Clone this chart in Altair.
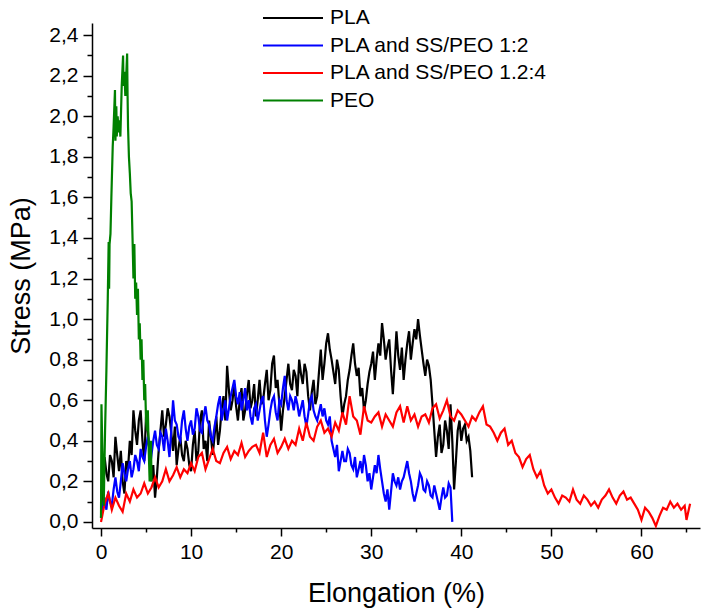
import altair as alt
import pandas as pd

series_names = ["PLA", "PLA and SS/PEO 1:2", "PLA and SS/PEO 1.2:4", "PEO"]
series_colors = ["#000000", "#0000ff", "#ff0000", "#008000"]

x_major = [0, 10, 20, 30, 40, 50, 60]
x_minor = [5, 15, 25, 35, 45, 55, 65]
y_major = [0.0, 0.2, 0.4, 0.6, 0.8, 1.0, 1.2, 1.4, 1.6, 1.8, 2.0, 2.2, 2.4]
y_minor = [0.1, 0.3, 0.5, 0.7, 0.9, 1.1, 1.3, 1.5, 1.7, 1.9, 2.1, 2.3]

pla_x = [0, 0.2, 0.4, 0.6, 0.8, 1.0, 1.2, 1.4, 1.6, 1.8,
         2.0, 2.2, 2.4, 2.6, 2.8, 3.0, 3.2, 3.4, 3.6, 3.8,
         4.0, 4.2, 4.4, 4.6, 4.8, 5.0, 5.2, 5.4, 5.6, 5.8,
         6.0, 6.2, 6.4, 6.6, 6.8, 7.0, 7.2, 7.4, 7.6, 7.8,
         8.0, 8.2, 8.4, 8.6, 8.8, 9.0, 9.2, 9.4, 9.6, 9.8,
         10.0, 10.2, 10.4, 10.6, 10.8, 11.0, 11.2, 11.4, 11.6, 11.8,
         12.0, 12.2, 12.4, 12.6, 12.8, 13.0, 13.2, 13.4, 13.6, 13.8,
         14.0, 14.2, 14.4, 14.6, 14.8, 15.0, 15.2, 15.4, 15.6, 15.8,
         16.0, 16.2, 16.4, 16.6, 16.8, 17.0, 17.2, 17.4, 17.6, 17.8,
         18.0, 18.2, 18.4, 18.6, 18.8, 19.0, 19.2, 19.4, 19.6, 19.8,
         20.0, 20.2, 20.4, 20.6, 20.8, 21.0, 21.2, 21.4, 21.6, 21.8,
         22.0, 22.2, 22.4, 22.6, 22.8, 23.0, 23.2, 23.4, 23.6, 23.8,
         24.0, 24.2, 24.4, 24.6, 24.8, 25.0, 25.2, 25.4, 25.6, 25.8,
         26.0, 26.2, 26.4, 26.6, 26.8, 27.0, 27.2, 27.4, 27.6, 27.8,
         28.0, 28.2, 28.4, 28.6, 28.8, 29.0, 29.2, 29.4, 29.6, 29.8,
         30.0, 30.2, 30.4, 30.6, 30.8, 31.0, 31.2, 31.4, 31.6, 31.8,
         32.0, 32.2, 32.4, 32.6, 32.8, 33.0, 33.2, 33.4, 33.6, 33.8,
         34.0, 34.2, 34.4, 34.6, 34.8, 35.0, 35.2, 35.4, 35.6, 35.8,
         36.0, 36.2, 36.4, 36.6, 36.8, 37.0, 37.2, 37.4, 37.6, 37.8,
         38.0, 38.2, 38.4, 38.6, 38.8, 39.0, 39.2, 39.4, 39.6, 39.8,
         40.0, 40.2, 40.4, 40.6, 40.8, 41.0, 41.2]
pla_y = [0.02, 0.22, 0.32, 0.24, 0.2, 0.33, 0.3, 0.22, 0.42, 0.33,
         0.25, 0.35, 0.2, 0.14, 0.3, 0.26, 0.4, 0.33, 0.55, 0.45,
         0.38, 0.5, 0.55, 0.4, 0.3, 0.52, 0.45, 0.33, 0.2, 0.28,
         0.12, 0.22, 0.35, 0.45, 0.55, 0.42, 0.48, 0.56, 0.52, 0.44,
         0.35, 0.47, 0.28, 0.36, 0.42, 0.33, 0.3, 0.4, 0.36, 0.28,
         0.25, 0.38, 0.45, 0.3, 0.35, 0.5, 0.55, 0.36, 0.4, 0.3,
         0.5, 0.42, 0.33, 0.42, 0.52, 0.38, 0.45, 0.56, 0.62, 0.5,
         0.77, 0.65, 0.55, 0.6, 0.68, 0.57, 0.5, 0.6, 0.66, 0.5,
         0.55, 0.63, 0.7, 0.56, 0.6, 0.68, 0.52, 0.6, 0.7, 0.58,
         0.6, 0.68, 0.75, 0.6, 0.65, 0.78, 0.82, 0.66, 0.7, 0.58,
         0.45, 0.55, 0.62, 0.7, 0.78, 0.68, 0.65, 0.75, 0.72, 0.62,
         0.8, 0.73, 0.68, 0.78, 0.74, 0.62, 0.55, 0.64, 0.7, 0.58,
         0.62, 0.74, 0.85, 0.7, 0.78, 0.88, 0.93, 0.85, 0.8, 0.74,
         0.68, 0.8, 0.75, 0.62, 0.52, 0.58, 0.62, 0.7, 0.75, 0.82,
         0.88, 0.78, 0.72, 0.76, 0.62, 0.66, 0.55, 0.6, 0.68, 0.74,
         0.78, 0.84, 0.7, 0.8, 0.88, 0.82, 0.98, 0.9, 0.8, 0.86,
         0.9, 0.75, 0.63, 0.78, 0.94, 0.82, 0.75, 0.86, 0.7, 0.8,
         0.88, 0.94, 0.8, 0.88, 0.95, 0.9, 1.0, 0.92, 0.85, 0.78,
         0.72, 0.8, 0.77, 0.7, 0.58, 0.45, 0.32, 0.42, 0.48, 0.34,
         0.38, 0.5, 0.45, 0.36, 0.58, 0.4, 0.16, 0.3, 0.45, 0.5,
         0.4, 0.46, 0.48, 0.4, 0.42, 0.35, 0.22]

blue_x = [0, 0.2, 0.4, 0.6, 0.8, 1.0, 1.2, 1.4, 1.6, 1.8,
          2.0, 2.2, 2.4, 2.6, 2.8, 3.0, 3.2, 3.4, 3.6, 3.8,
          4.0, 4.2, 4.4, 4.6, 4.8, 5.0, 5.2, 5.4, 5.6, 5.8,
          6.0, 6.2, 6.4, 6.6, 6.8, 7.0, 7.2, 7.4, 7.6, 7.8,
          8.0, 8.2, 8.4, 8.6, 8.8, 9.0, 9.2, 9.4, 9.6, 9.8,
          10.0, 10.2, 10.4, 10.6, 10.8, 11.0, 11.2, 11.4, 11.6, 11.8,
          12.0, 12.2, 12.4, 12.6, 12.8, 13.0, 13.2, 13.4, 13.6, 13.8,
          14.0, 14.2, 14.4, 14.6, 14.8, 15.0, 15.2, 15.4, 15.6, 15.8,
          16.0, 16.2, 16.4, 16.6, 16.8, 17.0, 17.2, 17.4, 17.6, 17.8,
          18.0, 18.2, 18.4, 18.6, 18.8, 19.0, 19.2, 19.4, 19.6, 19.8,
          20.0, 20.2, 20.4, 20.6, 20.8, 21.0, 21.2, 21.4, 21.6, 21.8,
          22.0, 22.2, 22.4, 22.6, 22.8, 23.0, 23.2, 23.4, 23.6, 23.8,
          24.0, 24.2, 24.4, 24.6, 24.8, 25.0, 25.2, 25.4, 25.6, 25.8,
          26.0, 26.2, 26.4, 26.6, 26.8, 27.0, 27.2, 27.4, 27.6, 27.8,
          28.0, 28.2, 28.4, 28.6, 28.8, 29.0, 29.2, 29.4, 29.6, 29.8,
          30.0, 30.2, 30.4, 30.6, 30.8, 31.0, 31.2, 31.4, 31.6, 31.8,
          32.0, 32.2, 32.4, 32.6, 32.8, 33.0, 33.2, 33.4, 33.6, 33.8,
          34.0, 34.2, 34.4, 34.6, 34.8, 35.0, 35.2, 35.4, 35.6, 35.8,
          36.0, 36.2, 36.4, 36.6, 36.8, 37.0, 37.2, 37.4, 37.6, 37.8,
          38.0, 38.2, 38.4, 38.6, 38.8, 39.0]
blue_y = [0.02, 0.08, 0.12, 0.06, 0.15, 0.1, 0.08, 0.16, 0.22, 0.15,
          0.12, 0.2, 0.29, 0.24, 0.2, 0.26, 0.3, 0.22, 0.26, 0.33,
          0.3, 0.25, 0.36, 0.32, 0.3, 0.37, 0.42, 0.35, 0.33, 0.4,
          0.45, 0.38, 0.36, 0.44, 0.42, 0.35, 0.46, 0.4, 0.32, 0.45,
          0.6, 0.5, 0.48, 0.42, 0.4, 0.5, 0.55, 0.46, 0.4, 0.47,
          0.5, 0.43, 0.46, 0.56, 0.52, 0.45, 0.44, 0.52, 0.57, 0.5,
          0.48, 0.42, 0.4, 0.47, 0.52, 0.58, 0.62, 0.5, 0.55, 0.6,
          0.5, 0.56, 0.62, 0.66, 0.7, 0.62, 0.58, 0.64, 0.55, 0.6,
          0.66, 0.55, 0.6, 0.52, 0.48, 0.56, 0.58, 0.5, 0.55, 0.6,
          0.62, 0.5, 0.42, 0.48, 0.55, 0.6, 0.62, 0.54, 0.5, 0.6,
          0.58, 0.66, 0.72, 0.6, 0.55, 0.62, 0.6, 0.55, 0.62, 0.58,
          0.52, 0.56, 0.6, 0.52, 0.47, 0.53, 0.6, 0.62, 0.55, 0.52,
          0.5, 0.54, 0.58, 0.52, 0.56, 0.5, 0.48, 0.52, 0.4, 0.36,
          0.32, 0.38, 0.25, 0.3, 0.35, 0.3, 0.3, 0.36, 0.34, 0.28,
          0.26, 0.32, 0.22, 0.26, 0.3, 0.24, 0.33, 0.28, 0.2, 0.24,
          0.16, 0.22, 0.28, 0.24, 0.33, 0.26, 0.2, 0.14, 0.1, 0.16,
          0.06, 0.15, 0.24, 0.2, 0.18, 0.22, 0.16, 0.2, 0.22, 0.26,
          0.3, 0.24, 0.2, 0.14, 0.1, 0.14, 0.18, 0.24, 0.22, 0.16,
          0.15, 0.2, 0.18, 0.13, 0.12, 0.18, 0.14, 0.1, 0.06, 0.12,
          0.17, 0.12, 0.13, 0.19, 0.17, 0.0]

red_x = [0, 0.4, 0.8, 1.2, 1.6, 2.0, 2.4, 2.8, 3.2, 3.6,
         4.0, 4.4, 4.8, 5.2, 5.6, 6.0, 6.4, 6.8, 7.2, 7.6,
         8.0, 8.4, 8.8, 9.2, 9.6, 10.0, 10.4, 10.8, 11.2, 11.6,
         12.0, 12.4, 12.8, 13.2, 13.6, 14.0, 14.4, 14.8, 15.2, 15.6,
         16.0, 16.4, 16.8, 17.2, 17.6, 18.0, 18.4, 18.8, 19.2, 19.6,
         20.0, 20.4, 20.8, 21.2, 21.6, 22.0, 22.4, 22.8, 23.2, 23.6,
         24.0, 24.4, 24.8, 25.2, 25.6, 26.0, 26.4, 26.8, 27.2, 27.6,
         28.0, 28.4, 28.8, 29.2, 29.6, 30.0, 30.4, 30.8, 31.2, 31.6,
         32.0, 32.4, 32.8, 33.2, 33.6, 34.0, 34.4, 34.8, 35.2, 35.6,
         36.0, 36.4, 36.8, 37.2, 37.6, 38.0, 38.4, 38.8, 39.2, 39.6,
         40.0, 40.4, 40.8, 41.2, 41.6, 42.0, 42.4, 42.8, 43.2, 43.6,
         44.0, 44.4, 44.8, 45.2, 45.6, 46.0, 46.4, 46.8, 47.2, 47.6,
         48.0, 48.4, 48.8, 49.2, 49.6, 50.0, 50.4, 50.8, 51.2, 51.6,
         52.0, 52.4, 52.8, 53.2, 53.6, 54.0, 54.4, 54.8, 55.2, 55.6,
         56.0, 56.4, 56.8, 57.2, 57.6, 58.0, 58.4, 58.8, 59.2, 59.6,
         60.0, 60.4, 60.8, 61.2, 61.6, 62.0, 62.4, 62.8, 63.2, 63.6,
         64.0, 64.4, 64.8, 65.0, 65.2, 65.4]
red_y = [0.0, 0.09, 0.14, 0.06, 0.12, 0.08, 0.05, 0.14, 0.1, 0.16,
         0.12, 0.14, 0.19, 0.14, 0.17, 0.22, 0.17, 0.2, 0.26, 0.2,
         0.23, 0.27, 0.22, 0.26, 0.24, 0.29, 0.25, 0.32, 0.34, 0.26,
         0.31, 0.36, 0.3, 0.29, 0.34, 0.37, 0.31, 0.35, 0.33, 0.39,
         0.32, 0.35, 0.37, 0.38, 0.34, 0.44, 0.32, 0.38, 0.41, 0.34,
         0.37, 0.41, 0.36, 0.4, 0.38, 0.46, 0.4, 0.49, 0.42, 0.4,
         0.47, 0.5, 0.44, 0.46, 0.42, 0.49, 0.45, 0.54, 0.48, 0.62,
         0.52, 0.5, 0.43, 0.57, 0.5, 0.49, 0.52, 0.54, 0.47, 0.53,
         0.5, 0.47, 0.54, 0.57, 0.49, 0.57, 0.5, 0.53, 0.47, 0.52,
         0.53, 0.49, 0.56, 0.58, 0.51, 0.55, 0.6, 0.52, 0.5, 0.55,
         0.53, 0.5, 0.47, 0.52, 0.5, 0.54, 0.57, 0.48, 0.47, 0.44,
         0.4, 0.44, 0.46, 0.38, 0.4, 0.34, 0.32, 0.27, 0.31, 0.33,
         0.26, 0.22, 0.25, 0.18, 0.14, 0.16, 0.12, 0.09, 0.13, 0.12,
         0.1, 0.16, 0.11, 0.09, 0.13, 0.11, 0.08, 0.1, 0.07, 0.11,
         0.13, 0.16, 0.12, 0.09, 0.13, 0.15, 0.11, 0.12, 0.09, 0.06,
         0.01, 0.07, 0.05, 0.02, -0.02, 0.03, 0.07, 0.06, 0.1, 0.07,
         0.09, 0.06, 0.08, 0.01, 0.05, 0.09]

peo_x = [0, 0.05, 0.15, 0.3, 0.45, 0.6, 0.75, 0.85, 0.9, 0.95,
         1.05, 1.15, 1.3, 1.4, 1.55, 1.6, 1.7, 1.75, 1.85, 1.95,
         2.05, 2.15, 2.3, 2.45, 2.5, 2.6, 2.7, 2.8, 2.9, 2.95,
         3.0, 3.1, 3.2, 3.3, 3.4, 3.5, 3.6, 3.7, 3.8, 3.9,
         4.0, 4.1, 4.2, 4.3, 4.4, 4.5, 4.6, 4.7, 4.8, 4.9,
         5.0, 5.1, 5.2, 5.3, 5.4, 5.5, 5.55, 5.6]
peo_y = [0.02, 0.58, 0.35, 0.08, 0.45, 0.75, 1.1, 1.38, 1.15, 1.37,
         1.42, 1.6, 1.85, 1.95, 2.13, 1.88, 2.05, 1.9, 2.0, 1.92,
         1.98, 1.9, 2.15, 2.3, 2.15, 2.22, 2.1, 2.2, 2.31, 2.1,
         1.95, 1.8, 1.72, 1.62, 1.58, 1.4, 1.2, 1.37, 1.1, 1.18,
         1.02, 1.15, 0.9, 0.98, 0.8, 0.9, 0.7, 0.8, 0.6, 0.68,
         0.5, 0.45, 0.55, 0.35, 0.2, 0.22, 0.4, 0.2]

rows = []
for name, xs, ys in [(series_names[0], pla_x, pla_y),
                     (series_names[1], blue_x, blue_y),
                     (series_names[2], red_x, red_y),
                     (series_names[3], peo_x, peo_y)]:
    for i, (a, b) in enumerate(zip(xs, ys)):
        rows.append({"series": name, "x": a, "y": b, "order": i})
df = pd.DataFrame(rows)

FONT = "Liberation Sans"
x_scale = alt.Scale(domain=[-1, 66.5], nice=False, zero=False)
y_scale = alt.Scale(domain=[-0.03, 2.46], nice=False, zero=False)

common_axis = dict(grid=False, domainColor="black", tickColor="black",
                   labelColor="black", titleColor="black", labelFont=FONT,
                   titleFont=FONT, titleFontWeight="normal")

x_axis = alt.Axis(orient="bottom", values=x_major, tickSize=8, tickWidth=1.5,
                  domainWidth=1.5, labelFontSize=21, titleFontSize=27,
                  labelPadding=5, titlePadding=18, title="Elongation (%)",
                  format="d", **common_axis)
y_axis = alt.Axis(orient="left", values=y_major, tickSize=9, tickWidth=1.5,
                  domainWidth=1.5, labelFontSize=21, titleFontSize=27,
                  labelPadding=5, titlePadding=13, title="Stress (MPa)",
                  labelExpr="replace(format(datum.value, '.1f'), '.', ',')",
                  **common_axis)

lines = alt.Chart(df).mark_line(strokeWidth=2.2).encode(
    x=alt.X("x:Q", scale=x_scale, axis=x_axis),
    y=alt.Y("y:Q", scale=y_scale, axis=y_axis),
    color=alt.Color("series:N",
                    scale=alt.Scale(domain=series_names, range=series_colors),
                    legend=alt.Legend(orient="none", legendX=170, legendY=-17,
                                      title=None, symbolType="stroke",
                                      symbolSize=3600, symbolStrokeWidth=2,
                                      labelFontSize=21, labelFont=FONT,
                                      labelColor="black", labelOffset=6,
                                      labelLimit=0, clipHeight=24,
                                      rowPadding=3.5)),
    order="order:Q",
)

x_minor_axis = alt.Axis(orient="bottom", values=x_minor, tickSize=4, tickWidth=1.5,
                        labels=False, domain=False, title=None, grid=False,
                        tickColor="black")
y_minor_axis = alt.Axis(orient="left", values=y_minor, tickSize=5, tickWidth=1.5,
                        labels=False, domain=False, title=None, grid=False,
                        tickColor="black")

minor = alt.Chart(df).mark_point(opacity=0).encode(
    x=alt.X("x:Q", scale=x_scale, axis=x_minor_axis),
    y=alt.Y("y:Q", scale=y_scale, axis=y_minor_axis),
)

chart = alt.layer(minor, lines).resolve_axis(
    x="independent", y="independent"
).properties(
    width=608, height=505,
    padding={"left": 92, "top": 23, "right": 1, "bottom": 87},
    autosize=alt.AutoSizeParams(type="none"),
).configure_view(stroke=None)

chart.save("out.html", embed_options={"renderer": "svg", "actions": False})
